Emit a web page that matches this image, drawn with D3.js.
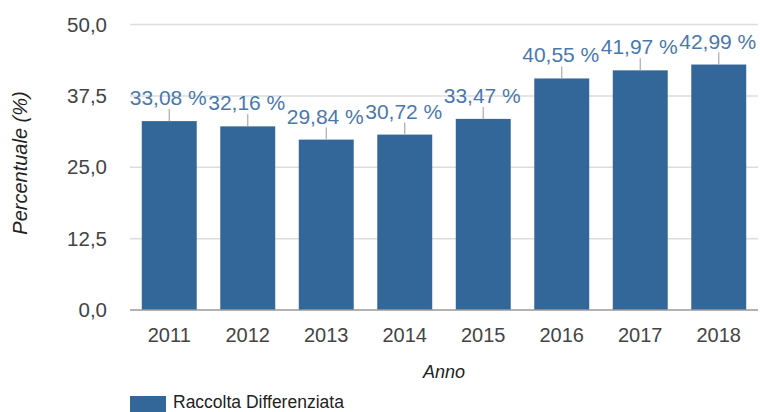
<!DOCTYPE html>
<html>
<head>
<meta charset="utf-8">
<script src="https://cdn.jsdelivr.net/npm/d3@7/dist/d3.min.js"></script>
<style>
  html, body { margin: 0; padding: 0; background: #fff; }
  svg { display: block; font-family: "Liberation Sans", Arial, sans-serif; }
</style>
</head>
<body>
<svg id="chart" width="760" height="412"></svg>
<script>
// Percentuale di raccolta differenziata per anno
const years = ["2011", "2012", "2013", "2014", "2015", "2016", "2017", "2018"];
const values = [33.08, 32.16, 29.84, 30.72, 33.47, 40.55, 41.97, 42.99];
const yTicks = [0, 12.5, 25, 37.5, 50];
const seriesName = "Raccolta Differenziata";
const xTitle = "Anno";
const yTitle = "Percentuale (%)";

const barColor = "#336699";
const labelColor = "#4a78ad";
const textColor = "#444";

const svg = d3.select("#chart");
const plot = { left: 130, right: 758, top: 24.5, bottom: 310 };

const fmt = v => d3.format(".1f")(v).replace(".", ",");
const fmtPct = v => d3.format(".2f")(v).replace(".", ",") + " %";

const x = d3.scaleBand()
  .domain(years)
  .range([plot.left, plot.right])
  .paddingInner(0.3)
  .paddingOuter(0.15);

const y = d3.scaleLinear()
  .domain([0, 50])
  .range([plot.bottom, plot.top]);

// horizontal gridlines
svg.append("g")
  .selectAll("line")
  .data(yTicks.filter(t => t > 0))
  .join("line")
  .attr("x1", plot.left).attr("x2", plot.right)
  .attr("y1", d => y(d)).attr("y2", d => y(d))
  .attr("stroke", "#dddddd").attr("stroke-width", 1.5);

// y axis labels
const yAxis = svg.append("g")
  .attr("transform", `translate(${plot.left},0)`)
  .call(d3.axisLeft(y).tickValues(yTicks).tickFormat(fmt).tickSize(0).tickPadding(23));
yAxis.select(".domain").remove();
yAxis.selectAll("text")
  .attr("fill", textColor)
  .style("font-size", "20.5px")
  .style("font-family", "'Liberation Sans', Arial, sans-serif");

// bars
svg.append("g")
  .selectAll("rect")
  .data(values)
  .join("rect")
  .attr("x", (d, i) => x(years[i]))
  .attr("width", x.bandwidth())
  .attr("y", d => y(d))
  .attr("height", d => y(0) - y(d))
  .attr("fill", barColor);

// baseline
svg.append("line")
  .attr("x1", plot.left).attr("x2", plot.right)
  .attr("y1", y(0)).attr("y2", y(0))
  .attr("stroke", "#999").attr("stroke-width", 1.5);

// x axis labels
const xAxis = svg.append("g")
  .attr("transform", `translate(0,${plot.bottom})`)
  .call(d3.axisBottom(x).tickSize(0).tickPadding(18));
xAxis.select(".domain").remove();
xAxis.selectAll("text")
  .attr("fill", textColor)
  .style("font-size", "20px")
  .style("font-family", "'Liberation Sans', Arial, sans-serif");

// value labels with leader lines
const lbl = svg.append("g");
lbl.selectAll("line")
  .data(values)
  .join("line")
  .attr("x1", (d, i) => x(years[i]) + x.bandwidth() / 2)
  .attr("x2", (d, i) => x(years[i]) + x.bandwidth() / 2)
  .attr("y1", d => y(d) - 12)
  .attr("y2", d => y(d))
  .attr("stroke", "#aaa").attr("stroke-width", 1.2);
lbl.selectAll("text")
  .data(values)
  .join("text")
  .attr("x", (d, i) => x(years[i]) + x.bandwidth() / 2 - 1)
  .attr("y", d => y(d) - 16)
  .attr("text-anchor", "middle")
  .attr("fill", labelColor)
  .style("font-size", "21px")
  .text(fmtPct);

// axis titles
svg.append("text")
  .attr("x", (plot.left + plot.right) / 2)
  .attr("y", 378)
  .attr("text-anchor", "middle")
  .attr("fill", "#222")
  .style("font-size", "18px")
  .style("font-style", "italic")
  .text(xTitle);

svg.append("text")
  .attr("transform", `translate(27,163) rotate(-90)`)
  .attr("text-anchor", "middle")
  .attr("fill", "#222")
  .style("font-size", "20px")
  .style("font-style", "italic")
  .text(yTitle);

// legend
const legend = svg.append("g").attr("transform", "translate(130,396)");
legend.append("rect")
  .attr("width", 36).attr("height", 16)
  .attr("fill", barColor);
legend.append("text")
  .attr("x", 43).attr("y", 12)
  .attr("fill", "#222")
  .style("font-size", "17.5px")
  .text(seriesName);
</script>
</body>
</html>
